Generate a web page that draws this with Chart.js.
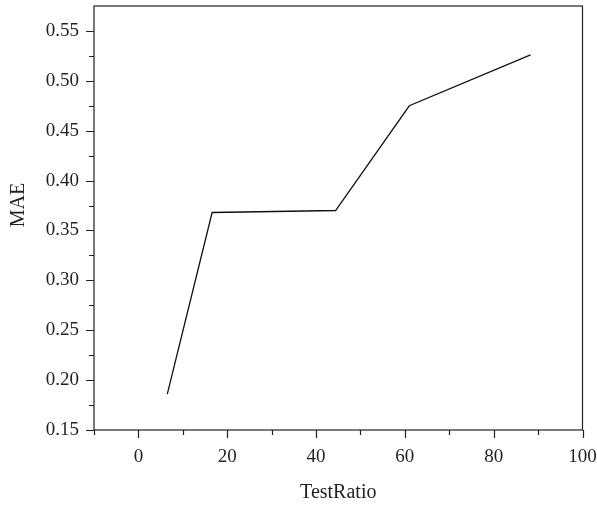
<!DOCTYPE html>
<html>
<head>
<meta charset="utf-8">
<script src="https://cdn.jsdelivr.net/npm/chart.js@4.4.1/dist/chart.umd.min.js"></script>
<style>
  html, body { margin: 0; padding: 0; background: #ffffff; }
  #wrap { width: 597px; height: 507px; }
</style>
</head>
<body>
<div id="wrap"><canvas id="c" width="597" height="507"></canvas></div>
<script>
// Data
const testRatio = [6.5, 16.6, 44.4, 61.0, 88.3];
const maeValues = [0.186, 0.368, 0.370, 0.475, 0.526];
// Tick labels
const xTickValues = [0, 20, 40, 60, 80, 100];
const xMinorTicks = [-10, 10, 30, 50, 70, 90];
const yTickValues = [0.15, 0.20, 0.25, 0.30, 0.35, 0.40, 0.45, 0.50, 0.55];
const yMinorTicks = [0.175, 0.225, 0.275, 0.325, 0.375, 0.425, 0.475, 0.525];
const xTitle = 'TestRatio';
const yTitle = 'MAE';

const INK = '#231f20';
const FONT = 'Liberation Serif, Times New Roman, serif';

const framePlugin = {
  id: 'frame',
  afterDraw(chart) {
    const ctx = chart.ctx;
    const a = chart.chartArea;
    const xs = chart.scales.x, ys = chart.scales.y;
    ctx.save();
    ctx.strokeStyle = INK;
    ctx.lineWidth = 1.2;
    ctx.strokeRect(a.left, a.top, a.right - a.left, a.bottom - a.top);
    ctx.beginPath();
    xTickValues.forEach(v => { const p = Math.round(xs.getPixelForValue(v)) + 0.5; ctx.moveTo(p, a.bottom); ctx.lineTo(p, a.bottom + 8); });
    xMinorTicks.forEach(v => { const p = Math.round(xs.getPixelForValue(v)) + 0.5; ctx.moveTo(p, a.bottom); ctx.lineTo(p, a.bottom + 5); });
    yTickValues.forEach(v => { const p = Math.round(ys.getPixelForValue(v)) + 0.5; ctx.moveTo(a.left, p); ctx.lineTo(a.left - 8, p); });
    yMinorTicks.forEach(v => { const p = Math.round(ys.getPixelForValue(v)) + 0.5; ctx.moveTo(a.left, p); ctx.lineTo(a.left - 5, p); });
    ctx.stroke();
    // axis titles
    ctx.fillStyle = INK;
    ctx.font = '20px ' + FONT;
    ctx.textAlign = 'center';
    ctx.textBaseline = 'alphabetic';
    ctx.fillText(xTitle, (a.left + a.right) / 2, 498);
    ctx.translate(24, 205);
    ctx.rotate(-Math.PI / 2);
    ctx.fillText(yTitle, 0, 0);
    ctx.restore();
  }
};

new Chart(document.getElementById('c'), {
  type: 'scatter',
  data: {
    datasets: [{
      data: testRatio.map((x, i) => ({ x: x, y: maeValues[i] })),
      showLine: true,
      borderColor: '#111111',
      borderWidth: 1.3,
      pointRadius: 0,
      pointHoverRadius: 0,
      tension: 0,
      fill: false
    }]
  },
  options: {
    responsive: false,
    animation: false,
    events: [],
    layout: { padding: { top: 6, right: 14.5, left: 0, bottom: 0 } },
    plugins: { legend: { display: false }, tooltip: { enabled: false } },
    scales: {
      x: {
        type: 'linear',
        min: -10, max: 100,
        afterFit(scale) {
          scale.height = 77;
          scale.paddingLeft = 0; scale.paddingRight = 0;
        },
        afterBuildTicks(scale) { scale.ticks = xTickValues.map(v => ({ value: v })); },
        grid: { display: true, drawOnChartArea: false, drawTicks: false, color: 'rgba(0,0,0,0)' },
        border: { display: false },
        ticks: {
          padding: 16,
          color: INK,
          font: { family: FONT, size: 19 },
          maxRotation: 0,
          autoSkip: false,
          callback: v => String(v)
        }
      },
      y: {
        type: 'linear',
        min: 0.15, max: 0.575,
        afterFit(scale) {
          scale.width = 94;
          scale.paddingTop = 0; scale.paddingBottom = 0;
        },
        afterBuildTicks(scale) { scale.ticks = yTickValues.map(v => ({ value: v })); },
        grid: { display: true, drawOnChartArea: false, drawTicks: false, color: 'rgba(0,0,0,0)' },
        border: { display: false },
        ticks: {
          padding: 15,
          color: INK,
          font: { family: FONT, size: 19 },
          autoSkip: false,
          callback: v => Number(v).toFixed(2)
        }
      }
    }
  },
  plugins: [framePlugin]
});
</script>
</body>
</html>
